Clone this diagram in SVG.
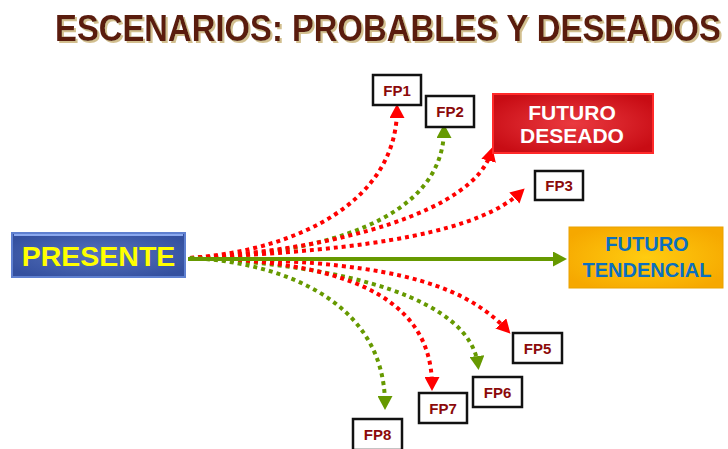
<svg xmlns="http://www.w3.org/2000/svg" width="728" height="449" viewBox="0 0 728 449">
<defs>
<style>
.t{font-family:"Liberation Sans",Arial,sans-serif;font-weight:bold;text-anchor:middle}
.fpb{fill:#fff;stroke:#111;stroke-width:2.5}
.fpt{font-size:15px;fill:#8b0a0a}
.r{fill:none;stroke:#ff0000;stroke-width:4;stroke-dasharray:4 4}
.g{fill:none;stroke:#669900;stroke-width:4;stroke-dasharray:4 4}
</style>
<filter id="sh" x="-5%" y="-20%" width="110%" height="150%">
<feFlood flood-color="#d2bf8f" result="c"/>
<feComposite in="c" in2="SourceAlpha" operator="in" result="s"/>
<feOffset in="s" dx="2" dy="2" result="o"/>
<feMerge><feMergeNode in="o"/><feMergeNode in="SourceGraphic"/></feMerge>
</filter>
<radialGradient id="gb" cx="0.5" cy="0.5" r="0.6">
<stop offset="0" stop-color="#5672bc"/><stop offset="1" stop-color="#34509f"/>
</radialGradient>
<radialGradient id="gr" cx="0.5" cy="0.5" r="0.6">
<stop offset="0" stop-color="#ea3a40"/><stop offset="1" stop-color="#c80c14"/>
</radialGradient>
<radialGradient id="go" cx="0.5" cy="0.5" r="0.6">
<stop offset="0" stop-color="#ffcc10"/><stop offset="1" stop-color="#f6a800"/>
</radialGradient>
<marker id="ar" markerUnits="userSpaceOnUse" markerWidth="15" markerHeight="15" refX="9" refY="7.5" orient="auto">
<path d="M0,0 L14,7.5 L0,15 z" fill="#ff0000"/>
</marker>
<marker id="ag" markerUnits="userSpaceOnUse" markerWidth="15" markerHeight="15" refX="9" refY="7.5" orient="auto">
<path d="M0,0 L14,7.5 L0,15 z" fill="#669900"/>
</marker>
</defs>
<rect width="728" height="449" fill="#fff"/>
<g id="title" filter="url(#sh)">
<text class="t" x="55" y="41" style="font-family:'Liberation Sans Narrow','Liberation Sans',sans-serif;font-size:36px;text-anchor:start" fill="#5a1a10" textLength="666" lengthAdjust="spacingAndGlyphs">ESCENARIOS: PROBABLES Y DESEADOS</text>
</g>
<g id="connectors">
<path class="r" d="M190,258 C300,250 397,200 397,109" marker-end="url(#ar)"/>
<path class="g" d="M190,258 C320,255 444,220 444,129" marker-end="url(#ag)"/>
<path class="r" d="M190,258 C340,250 475,210 491,152" marker-end="url(#ar)"/>
<path class="r" d="M190,258 C380,250 480,230 521,192" marker-end="url(#ar)"/>
<path class="r" d="M190,258 C380,260 460,280 507,330" marker-end="url(#ar)"/>
<path class="g" d="M190,258 C350,265 470,300 478,365" marker-end="url(#ag)"/>
<path class="r" d="M190,258 C330,260 432,290 432,386" marker-end="url(#ar)"/>
<path class="g" d="M190,258 C280,262 385,300 385,405" marker-end="url(#ag)"/>
<path d="M188,259 L562,259" fill="none" stroke="#669900" stroke-width="4" marker-end="url(#ag)"/>
</g>
<g id="presente">
<rect x="12" y="233" width="173" height="44" fill="url(#gb)" stroke="#5f80d0" stroke-width="2"/>
<line x1="14" y1="235" x2="183" y2="235" stroke="#8aa8ee" stroke-width="2"/>
<text class="t" x="98.5" y="266" font-size="28.5" fill="#ffff00">PRESENTE</text>
</g>
<g id="futuro-tendencial">
<rect x="569" y="227" width="154" height="61" fill="url(#go)" stroke="#eaa200" stroke-width="1"/>
<text class="t" x="647" y="251" font-size="20" fill="#0a6fc0">FUTURO</text>
<text class="t" x="647" y="277" font-size="20" fill="#0a6fc0">TENDENCIAL</text>
</g>
<g id="futuro-deseado">
<rect x="493" y="94" width="160" height="59" fill="url(#gr)" stroke="#ff2a2a" stroke-width="2"/>
<text class="t" x="572" y="120" font-size="21" fill="#fff">FUTURO</text>
<text class="t" x="572" y="143" font-size="21" fill="#fff">DESEADO</text>
</g>
<g id="fp1"><rect class="fpb" x="373" y="75" width="48" height="30"/><text class="t fpt" x="397" y="95.5">FP1</text></g>
<g id="fp2"><rect class="fpb" x="426" y="96" width="48" height="31"/><text class="t fpt" x="450" y="117">FP2</text></g>
<g id="fp3"><rect class="fpb" x="535" y="171" width="48" height="29"/><text class="t fpt" x="559" y="191">FP3</text></g>
<g id="fp5"><rect class="fpb" x="513" y="333" width="49" height="30"/><text class="t fpt" x="537.5" y="353.5">FP5</text></g>
<g id="fp6"><rect class="fpb" x="473" y="377" width="49" height="30"/><text class="t fpt" x="497.5" y="397.5">FP6</text></g>
<g id="fp7"><rect class="fpb" x="419" y="393" width="48" height="30"/><text class="t fpt" x="443" y="413.5">FP7</text></g>
<g id="fp8"><rect class="fpb" x="353" y="419" width="49" height="31"/><text class="t fpt" x="377.5" y="440">FP8</text></g>
</svg>
